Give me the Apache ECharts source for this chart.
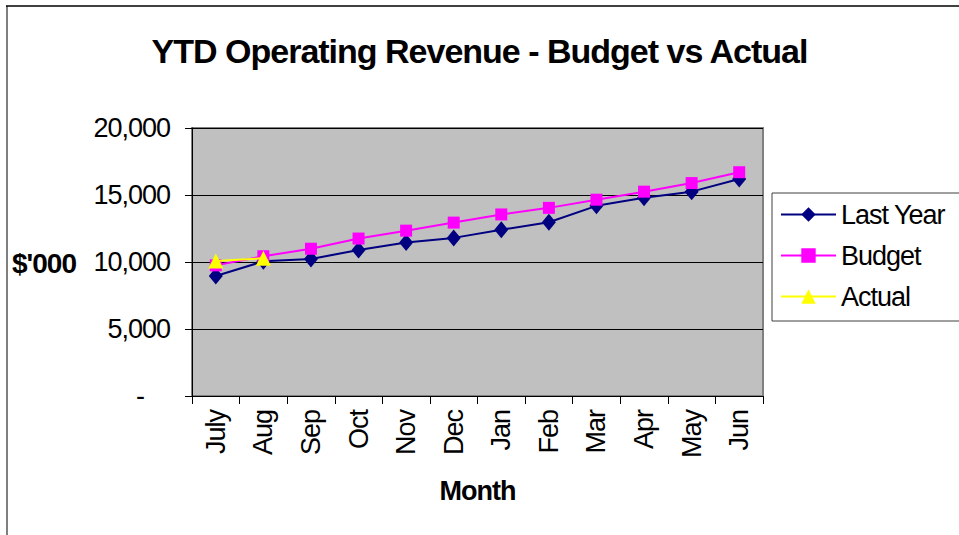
<!DOCTYPE html>
<html>
<head>
<meta charset="utf-8">
<script src="https://cdn.jsdelivr.net/npm/echarts@6/dist/echarts.min.js"></script>
<style>
  html, body { margin: 0; padding: 0; background: #fff; }
  #chart { width: 959px; height: 535px; }
  /* the original Excel export has very tight letter spacing */
  #chart text { letter-spacing: -1px; }
</style>
</head>
<body>
<div id="chart"></div>
<script>
// data
const months = ['July', 'Aug', 'Sep', 'Oct', 'Nov', 'Dec', 'Jan', 'Feb', 'Mar', 'Apr', 'May', 'Jun'];
const lastYear = [8960, 10050, 10230, 10890, 11450, 11800, 12410, 12970, 14190, 14800, 15250, 16190];
const budget = [9750, 10430, 10990, 11750, 12340, 12940, 13550, 14040, 14650, 15250, 15890, 16700];
const actual = [10080, 10280, null, null, null, null, null, null, null, null, null, null];

const FONT = '"Liberation Sans", Arial, sans-serif';

const chart = echarts.init(document.getElementById('chart'), null, { renderer: 'svg' });

const option = {
  backgroundColor: '#fff',
  animation: false,
  title: {
    text: 'YTD Operating Revenue - Budget vs Actual',
    left: 'center',
    top: 29,
    textStyle: { fontFamily: FONT, fontSize: 34, fontWeight: 'bold', color: '#000' }
  },
  legend: {
    orient: 'vertical',
    left: 772,
    top: 193,
    padding: [8, 12, 11, 8],
    itemWidth: 55,
    itemHeight: 18,
    itemGap: 14,
    backgroundColor: '#fff',
    borderColor: '#404040',
    borderWidth: 1,
    selectedMode: false,
    textStyle: { fontFamily: FONT, fontSize: 27, color: '#000', lineHeight: 27 },
    data: ['Last Year', 'Budget', 'Actual']
  },
  grid: {
    left: 192,
    top: 128,
    right: 196,
    bottom: 139,
    show: true,
    backgroundColor: '#C0C0C0',
    borderColor: '#808080',
    borderWidth: 2
  },
  xAxis: {
    type: 'category',
    data: months,
    boundaryGap: true,
    name: 'Month',
    nameLocation: 'middle',
    nameGap: 81,
    nameTextStyle: { fontFamily: FONT, fontSize: 27, fontWeight: 'bold', color: '#000' },
    axisLine: { lineStyle: { color: '#000', width: 1 } },
    axisTick: { show: true, inside: false, length: 8, lineStyle: { color: '#000' } },
    axisLabel: {
      rotate: 90,
      margin: 14,
      interval: 0,
      fontFamily: FONT,
      fontSize: 27,
      color: '#000'
    },
    splitLine: { show: false }
  },
  yAxis: {
    type: 'value',
    min: 0,
    max: 20000,
    interval: 5000,
    axisLine: { show: true, lineStyle: { color: '#000', width: 1 } },
    axisTick: { show: true, inside: false, length: 7, lineStyle: { color: '#000' } },
    axisLabel: {
      margin: 22,
      fontFamily: FONT,
      fontSize: 27,
      color: '#000',
      formatter: function (v) {
        if (v === 0) return '-\u00a0\u00a0\u00a0\u00a0';
        return v.toLocaleString('en-US');
      }
    },
    splitLine: { show: true, lineStyle: { color: '#000', width: 1 } }
  },
  graphic: [
    // outer chart frame (runs off the right and bottom of the picture)
    { type: 'line', shape: { x1: 6, y1: 6, x2: 959, y2: 6 }, style: { stroke: '#404040', lineWidth: 2 } },
    { type: 'line', shape: { x1: 7, y1: 6, x2: 7, y2: 535 }, style: { stroke: '#000', lineWidth: 1 } },
    {
      type: 'text',
      left: 12,
      top: 249,
      style: { text: "$'000", font: 'bold 28px ' + FONT, fill: '#000' }
    }
  ],
  series: [
    {
      name: 'Last Year',
      type: 'line',
      data: lastYear,
      symbol: 'diamond',
      symbolSize: [14, 17],
      lineStyle: { color: '#000080', width: 2 },
      itemStyle: { color: '#000080' },
      z: 2
    },
    {
      name: 'Budget',
      type: 'line',
      data: budget,
      symbol: 'rect',
      symbolSize: 12,
      lineStyle: { color: '#FF00FF', width: 2 },
      itemStyle: { color: '#FF00FF' },
      z: 3
    },
    {
      name: 'Actual',
      type: 'line',
      data: actual,
      symbol: 'triangle',
      symbolSize: 15,
      lineStyle: { color: '#FFFF00', width: 2 },
      itemStyle: { color: '#FFFF00' },
      z: 4
    }
  ]
};

chart.setOption(option);
window.addEventListener('resize', function () { chart.resize(); });
</script>
</body>
</html>
